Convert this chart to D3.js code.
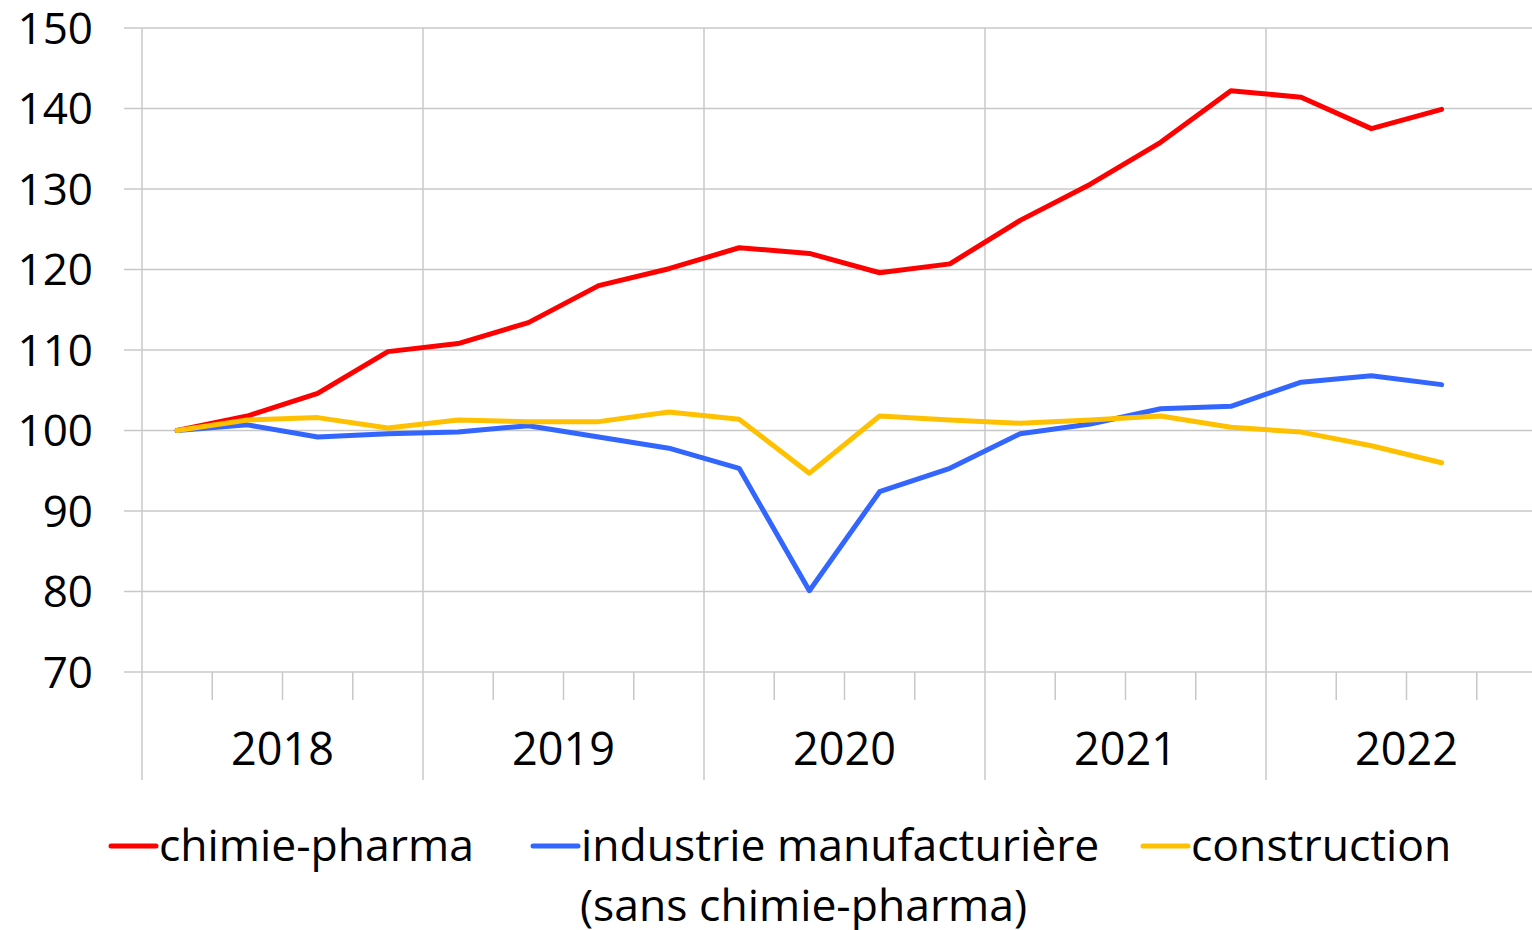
<!DOCTYPE html>
<html>
<head>
<meta charset="utf-8">
<title>chimie-pharma</title>
<style>
body { margin: 0; background: #fff; }
text {
  font-family: "Open Sans", sans-serif;
  fill: #000;
}
.grid line { stroke: #c8c8c8; stroke-width: 1.5px; }
.series { fill: none; stroke-width: 5px; stroke-linejoin: round; stroke-linecap: round; }
</style>
</head>
<body>
<script src="https://cdn.jsdelivr.net/npm/d3@7/dist/d3.min.js"></script>
<script>

// quarters on the x axis (2022T4 is an empty slot)
var years = ["2018", "2019", "2020", "2021", "2022"];
var quarters = [];
years.forEach(function(y) {
  ["T1", "T2", "T3", "T4"].forEach(function(t) { quarters.push(y + t); });
});

// indices, base 100 = 2018T1
var chimiePharma = [100, 101.8, 104.6, 109.8, 110.8, 113.4, 118.0, 120.1, 122.7, 122.0,
                    119.6, 120.7, 126.1, 130.6, 135.8, 142.2, 141.4, 137.5, 139.9];
var industrie = [100, 100.7, 99.2, 99.6, 99.8, 100.6, 99.2, 97.8, 95.3, 80.1,
                 92.4, 95.3, 99.6, 100.8, 102.7, 103.0, 106.0, 106.8, 105.7];
var construction = [100, 101.3, 101.6, 100.3, 101.3, 101.1, 101.1, 102.3, 101.4, 94.7,
                    101.8, 101.3, 100.9, 101.3, 101.8, 100.4, 99.8, 98.1, 96.0];

var yTicks = [70, 80, 90, 100, 110, 120, 130, 140, 150];

var seriesNames = ["chimie-pharma", "industrie manufacturière", "construction"];
var seriesColors = ["#ff0000", "#3366ff", "#ffc000"];
var seriesData = [chimiePharma, industrie, construction];

var width = 1532, height = 930;

var svg = d3.select("body").append("svg")
    .attr("width", width)
    .attr("height", height);

var x = d3.scaleBand()
    .domain(quarters)
    .range([142, 1547])
    .padding(0);

var xYear = d3.scaleBand()
    .domain(years)
    .range([142, 1547]);

var y = d3.scaleLinear()
    .domain([70, 150])
    .range([672, 28]);

// horizontal gridlines
var grid = svg.append("g").attr("class", "grid");
grid.selectAll(".hline")
    .data(yTicks)
    .enter().append("line")
    .attr("x1", 124)
    .attr("x2", width)
    .attr("y1", function(d) { return y(d); })
    .attr("y2", function(d) { return y(d); });

// year separators (full height) and quarter ticks
grid.selectAll(".vline")
    .data(quarters)
    .enter().append("line")
    .attr("x1", function(d) { return x(d); })
    .attr("x2", function(d) { return x(d); })
    .attr("y1", function(d) { return d.slice(4) == "T1" ? 28 : 672; })
    .attr("y2", function(d) { return d.slice(4) == "T1" ? 780 : 700; });

// y labels
svg.append("g").selectAll("text")
    .data(yTicks)
    .enter().append("text")
    .attr("x", 93)
    .attr("y", function(d) { return y(d); })
    .attr("dy", "0.36em")
    .attr("text-anchor", "end")
    .style("font-size", "44px")
    .text(function(d) { return d; });

// year labels
svg.append("g").selectAll("text")
    .data(years)
    .enter().append("text")
    .attr("x", function(d) { return xYear(d) + xYear.bandwidth() / 2; })
    .attr("y", 765)
    .attr("text-anchor", "middle")
    .style("font-size", "45px")
    .text(function(d) { return d; });

// lines
var line = d3.line()
    .x(function(d, i) { return x(quarters[i]) + x.bandwidth() / 2; })
    .y(function(d) { return y(d); });

svg.append("g").selectAll("path")
    .data(seriesData)
    .enter().append("path")
    .attr("class", "series")
    .attr("stroke", function(d, i) { return seriesColors[i]; })
    .attr("d", line);

// legend
var legendX = [111, 533, 1143];
var lg = svg.append("g").selectAll("g")
    .data(seriesNames)
    .enter().append("g")
    .attr("transform", function(d, i) { return "translate(" + legendX[i] + ",846)"; });

lg.append("line")
    .attr("x1", 0).attr("x2", 45)
    .attr("y1", 0).attr("y2", 0)
    .attr("stroke", function(d, i) { return seriesColors[i]; })
    .attr("stroke-width", 5)
    .attr("stroke-linecap", "round");

lg.append("text")
    .attr("x", 48)
    .attr("y", 15)
    .style("font-size", "44.5px")
    .text(function(d) { return d; });

svg.append("text")
    .attr("x", 580)
    .attr("y", 921)
    .style("font-size", "44.5px")
    .text("(sans chimie-pharma)");

</script>
</body>
</html>
